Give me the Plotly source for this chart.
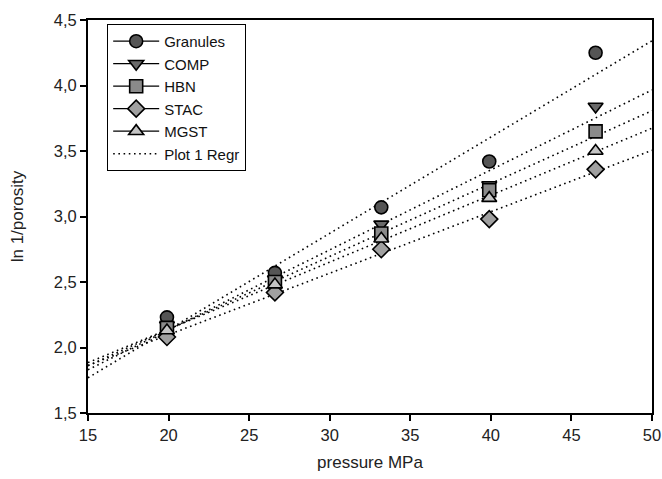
import numpy as np
import plotly.graph_objects as go

pressure = [19.9, 26.6, 33.2, 39.9, 46.5]
granules = [2.23, 2.57, 3.07, 3.42, 4.25]
comp = [2.17, 2.52, 2.94, 3.24, 3.84]
hbn = [2.15, 2.50, 2.87, 3.20, 3.65]
stac = [2.08, 2.42, 2.75, 2.98, 3.36]
mgst = [2.13, 2.48, 2.83, 3.14, 3.50]

series = [
    ("Granules", granules, "circle", "#555555"),
    ("COMP", comp, "triangle-down", "#6a6a6a"),
    ("HBN", hbn, "square", "#8a8a8a"),
    ("STAC", stac, "diamond", "#a0a0a0"),
    ("MGST", mgst, "triangle-up", "#c4c4c4"),
]
x_range = [15, 50]

fig = go.Figure()

# regression lines first (drawn under markers), one legend entry
for i, (name, ys, sym, col) in enumerate(series):
    slope, icpt = np.polyfit(pressure, ys, 1)
    xs = np.array(x_range, dtype=float)
    fig.add_trace(go.Scatter(
        x=xs, y=slope * xs + icpt, mode="lines",
        line=dict(color="black", width=1.6, dash="1.6px,3.6px"),
        name="Plot 1 Regr", legendgroup="regr", showlegend=False,
        legendrank=1000, hoverinfo="skip"))

for k, (name, ys, sym, col) in enumerate(series):
    xg, yg = [], []
    for xv, yv in zip(pressure, ys):
        xg += [xv, None]
        yg += [yv, None]
    fig.add_trace(go.Scatter(
        x=xg, y=yg, mode="lines+markers", connectgaps=False,
        line=dict(color="black", width=1.3),
        marker=dict(symbol=sym, size=13, color=col,
                    line=dict(color="black", width=1.6)),
        name=name, legendrank=k + 1))

# legend entry for regression lines
fig.add_trace(go.Scatter(
    x=[None], y=[None], mode="lines",
    line=dict(color="black", width=1.6, dash="1.6px,3.6px"),
    name="Plot 1 Regr", legendgroup="regr", showlegend=True, legendrank=999))

axis_common = dict(
    showline=True, linecolor="black", linewidth=2, mirror=True,
    ticks="outside", ticklen=6, tickwidth=1.5, tickcolor="black",
    showgrid=False, zeroline=False, automargin=False,
    tickfont=dict(family="Liberation Sans, Arial", size=16.5, color="#222222"),
)

fig.update_layout(
    width=662, height=479,
    margin=dict(l=88, r=10, t=20, b=66),
    plot_bgcolor="white", paper_bgcolor="white",
    separators=",.",
    font=dict(family="Liberation Sans, Arial", color="#222222"),
    xaxis=dict(range=x_range, dtick=5, tick0=15,
               title=dict(text="pressure MPa", font=dict(size=17), standoff=13),
               **axis_common),
    yaxis=dict(range=[1.5, 4.5], dtick=0.5, tick0=1.5, tickformat=".1f",
               title=dict(text="ln 1/porosity", font=dict(size=17), standoff=26),
               **axis_common),
    legend=dict(x=0.034, y=0.99, xanchor="left", yanchor="top",
                bgcolor="white", bordercolor="black", borderwidth=1,
                font=dict(size=15, color="#111111"), itemwidth=46,
                traceorder="normal"),
    showlegend=True,
)

fig.write_html(
    "out.html",
    config={"displayModeBar": False},
    post_script="document.body.style.margin='0';document.body.style.overflow='hidden';",
)
